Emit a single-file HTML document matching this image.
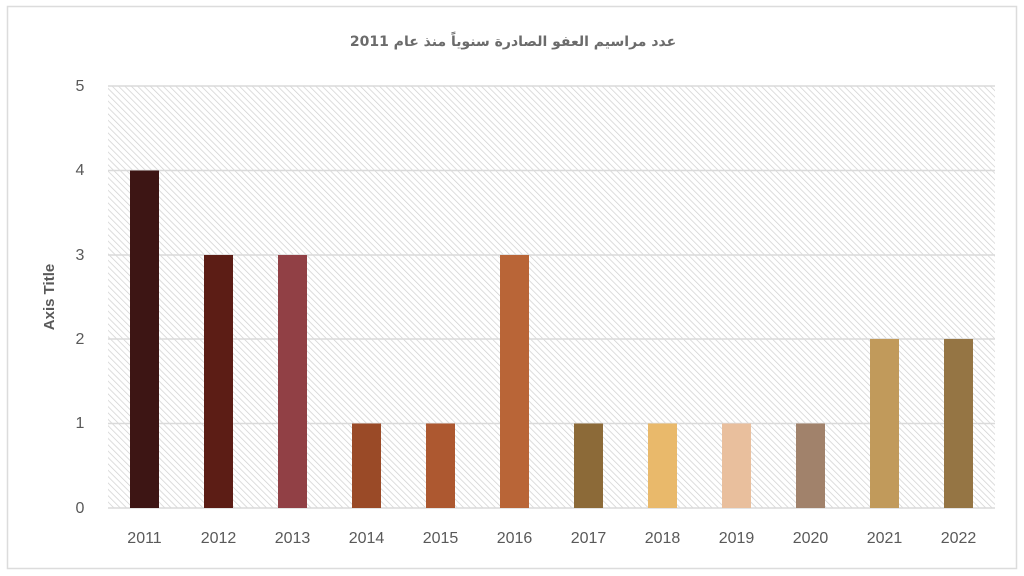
<!DOCTYPE html>
<html><head><meta charset="utf-8"><style>
html,body{margin:0;padding:0;background:#fff;width:1024px;height:576px;overflow:hidden}
</style></head><body>
<svg width="1024" height="576" xmlns="http://www.w3.org/2000/svg" font-family="Liberation Sans, DejaVu Sans, sans-serif">
<defs>
<pattern id="h" width="4.5" height="4.5" patternUnits="userSpaceOnUse" patternTransform="rotate(-45)">
<rect width="4.5" height="4.5" fill="#fff"/>
<line x1="0" y1="0" x2="0" y2="4.5" stroke="#cfcfcf" stroke-width="1.4"/>
</pattern>
</defs>
<rect x="0" y="0" width="1024" height="576" fill="#fff"/>
<rect x="7.5" y="6.5" width="1009" height="562" fill="#fff" stroke="#dcdcdc" stroke-width="1.5"/>
<text x="513" y="46" text-anchor="middle" font-size="14" font-weight="bold" fill="#6b6b6b" font-family="DejaVu Sans, Liberation Sans, sans-serif" direction="rtl">عدد مراسيم العفو الصادرة سنوياً منذ عام 2011</text>
<rect x="108" y="86" width="887" height="422" fill="url(#h)"/>
<g stroke="#dadada" stroke-width="1.5">
<line x1="108" x2="995" y1="86" y2="86"/><line x1="108" x2="995" y1="170.5" y2="170.5"/>
<line x1="108" x2="995" y1="255" y2="255"/><line x1="108" x2="995" y1="339" y2="339"/>
<line x1="108" x2="995" y1="423.5" y2="423.5"/><line x1="108" x2="995" y1="508" y2="508"/>
</g>
<g font-size="16" fill="#595959" text-anchor="middle">
<text x="80" y="91">5</text><text x="80" y="175">4</text><text x="80" y="260">3</text>
<text x="80" y="344">2</text><text x="80" y="428">1</text><text x="80" y="513">0</text>
</g>
<text transform="translate(54,297) rotate(-90)" text-anchor="middle" font-size="15" font-weight="bold" fill="#595959">Axis Title</text>
<g>
<rect x="130" y="170.5" width="29" height="337.5" fill="#3d1514"/>
<rect x="204" y="255" width="29" height="253" fill="#5c1d15"/>
<rect x="278" y="255" width="29" height="253" fill="#914045"/>
<rect x="352" y="423.5" width="29" height="84.5" fill="#9a4a27"/>
<rect x="426" y="423.5" width="29" height="84.5" fill="#ad5830"/>
<rect x="500" y="255" width="29" height="253" fill="#b96537"/>
<rect x="574" y="423.5" width="29" height="84.5" fill="#8c6a38"/>
<rect x="648" y="423.5" width="29" height="84.5" fill="#e9b96b"/>
<rect x="722" y="423.5" width="29" height="84.5" fill="#e9bf9d"/>
<rect x="796" y="423.5" width="29" height="84.5" fill="#a1826b"/>
<rect x="870" y="339" width="29" height="169" fill="#c19a5b"/>
<rect x="944" y="339" width="29" height="169" fill="#957544"/>
</g>
<g font-size="16" fill="#595959" text-anchor="middle">
<text x="144.5" y="543">2011</text><text x="218.5" y="543">2012</text><text x="292.5" y="543">2013</text>
<text x="366.5" y="543">2014</text><text x="440.5" y="543">2015</text><text x="514.5" y="543">2016</text>
<text x="588.5" y="543">2017</text><text x="662.5" y="543">2018</text><text x="736.5" y="543">2019</text>
<text x="810.5" y="543">2020</text><text x="884.5" y="543">2021</text><text x="958.5" y="543">2022</text>
</g>
</svg>
</body></html>
